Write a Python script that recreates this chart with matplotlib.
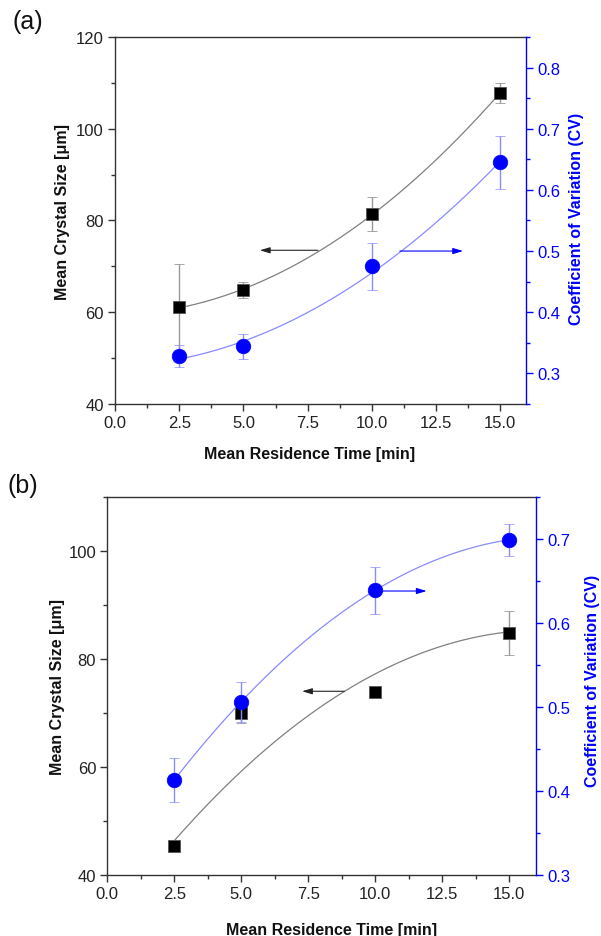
import numpy as np
import matplotlib
matplotlib.use("Agg")
import matplotlib.pyplot as plt
from matplotlib.ticker import MultipleLocator, FormatStrFormatter

plt.rcParams['font.family'] = ['Liberation Sans', 'DejaVu Sans']

# ---------------- data ----------------
time_min = [2.5, 5.0, 10.0, 15.0]

# panel (a)
a_size = [61.1, 64.8, 81.4, 107.8]
a_size_err = [9.4, 1.7, 3.8, 2.2]
a_cv = [0.328, 0.344, 0.475, 0.645]
a_cv_err = [0.018, 0.021, 0.038, 0.043]
a_size_fit = [61.1, 64.8, 81.4, 107.8]
a_cv_fit = [0.328, 0.344, 0.470, 0.645]

# panel (b)
b_size = [45.4, 69.9, 73.9, 84.8]
b_size_err = [0.0, 1.7, 0.0, 4.0]
b_cv = [0.413, 0.506, 0.639, 0.699]
b_cv_err = [0.026, 0.024, 0.028, 0.019]
b_size_fit = [46.6, 58.6, 77.6, 84.9]
b_cv_fit = [0.413, 0.506, 0.639, 0.699]

xlabel = "Mean Residence Time [min]"
ylabel_l = "Mean Crystal Size [\u03bcm]"
ylabel_r = "Coefficient of Variation (CV)"

BLUE = '#0000ff'
LBLUE = '#8a8aff'
GRAY = '#808080'
SPINE = '#333333'
TFS = 12
LFS = 11.5

fig = plt.figure(figsize=(6.01, 9.37), dpi=100)


def fit_curve(x, y):
    c = np.polyfit(x, y, 2)
    xx = np.linspace(min(x), max(x), 200)
    return xx, np.polyval(c, xx)


def style_axes(ax, ax2, ylim_l, ylim_r, lab_pos):
    ax.set_xlim(0, 16)
    ax.set_ylim(*ylim_l)
    ax2.set_ylim(*ylim_r)
    ax.xaxis.set_major_locator(MultipleLocator(2.5))
    ax.xaxis.set_minor_locator(MultipleLocator(1.25))
    ax.xaxis.set_major_formatter(FormatStrFormatter('%.1f'))
    ax.yaxis.set_major_locator(MultipleLocator(20))
    ax.yaxis.set_minor_locator(MultipleLocator(10))
    ax2.yaxis.set_major_locator(MultipleLocator(0.1))
    ax2.yaxis.set_minor_locator(MultipleLocator(0.05))
    ax2.yaxis.set_major_formatter(FormatStrFormatter('%.1f'))
    for s in ['left', 'top', 'bottom']:
        ax.spines[s].set_color(SPINE)
        ax.spines[s].set_linewidth(1.0)
    ax.spines['right'].set_visible(False)
    for s in ['left', 'top', 'bottom']:
        ax2.spines[s].set_visible(False)
    ax2.spines['right'].set_color(BLUE)
    ax2.spines['right'].set_linewidth(1.0)
    ax.tick_params(axis='both', which='major', direction='out', length=5, width=1,
                   color=SPINE, labelsize=TFS, labelcolor='#222222', pad=3)
    ax.tick_params(axis='both', which='minor', direction='out', length=3, width=1, color=SPINE)
    ax.tick_params(axis='x', top=False)
    ax2.tick_params(axis='y', which='major', direction='out', length=5, width=1,
                    color=BLUE, labelsize=TFS, labelcolor=BLUE, pad=3)
    ax2.tick_params(axis='y', which='minor', direction='out', length=3, width=1, color=BLUE)
    ax.set_xlabel(xlabel, fontsize=LFS, fontweight='bold', color='#111111')
    ax.set_ylabel(ylabel_l, fontsize=LFS, fontweight='bold', color='#111111')
    ax2.set_ylabel(ylabel_r, fontsize=LFS, fontweight='bold', color=BLUE)
    for lab in [ax.xaxis.label, ax.yaxis.label, ax2.yaxis.label]:
        lab.set_va('center')
    (xl_x, xl_y), (yl_x, yl_y), (yr_x, yr_y) = lab_pos
    ax.xaxis.set_label_coords(xl_x, xl_y)
    ax.yaxis.set_label_coords(yl_x, yl_y)
    ax2.yaxis.set_label_coords(yr_x, yr_y)


def draw_panel(rect, size, size_err, cv, cv_err, size_fit, cv_fit,
               ylim_l, ylim_r, arrows, lab_pos):
    ax = fig.add_axes(rect)
    ax2 = ax.twinx()
    style_axes(ax, ax2, ylim_l, ylim_r, lab_pos)
    # fits
    xx, yy = fit_curve(time_min, size_fit)
    ax.plot(xx, yy, color=GRAY, lw=0.9, zorder=2)
    xx, yy = fit_curve(time_min, cv_fit)
    ax2.plot(xx, yy, color=LBLUE, lw=0.9, zorder=2)
    # data
    ax.errorbar(time_min, size, yerr=size_err, fmt='s', ms=9, mfc='black',
                mec='#555555', mew=0.6, ecolor='#999999', elinewidth=1.0,
                capsize=3.5, capthick=1.0, zorder=3)
    ax2.errorbar(time_min, cv, yerr=cv_err, fmt='o', ms=10.5, mfc=BLUE,
                 mec=BLUE, mew=0.5, ecolor=LBLUE, elinewidth=1.0,
                 capsize=3.5, capthick=1.0, zorder=3)
    (bx0, bx1, by), (cx0, cx1, cy) = arrows
    ax.annotate('', xy=(bx1, by), xytext=(bx0, by),
                arrowprops=dict(arrowstyle='-|>,head_length=0.6,head_width=0.18',
                                color='#222222', lw=0.8, shrinkA=0, shrinkB=0))
    ax2.annotate('', xy=(cx1, cy), xytext=(cx0, cy),
                 arrowprops=dict(arrowstyle='-|>,head_length=0.6,head_width=0.18',
                                 color=BLUE, lw=0.8, shrinkA=0, shrinkB=0))
    return ax, ax2


# panel (a)
draw_panel([0.1913, 0.5678, 0.6839, 0.3917], a_size, a_size_err, a_cv, a_cv_err,
           a_size_fit, a_cv_fit, (40, 120), (0.25, 0.85),
           ((7.9, 5.64, 73.5), (11.09, 13.55, 0.5)),
           ((0.474, -0.136), (-0.1265, 0.5245), (1.1217, 0.508)))

# panel (b)
draw_panel([0.1785, 0.0654, 0.7133, 0.4031], b_size, b_size_err, b_cv, b_cv_err,
           b_size_fit, b_cv_fit, (40, 110), (0.3, 0.75),
           ((8.85, 7.27, 74.0), (10.0, 11.92, 0.638)),
           ((0.523, -0.144), (-0.117, 0.4996), (1.132, 0.515)))

fig.text(28 / 601, 1 - 22 / 937, '(a)', fontsize=18, ha='center', va='center', color='#111111')
fig.text(23 / 601, 1 - 486 / 937, '(b)', fontsize=18, ha='center', va='center', color='#111111')

fig.savefig('out.png', dpi=100)
